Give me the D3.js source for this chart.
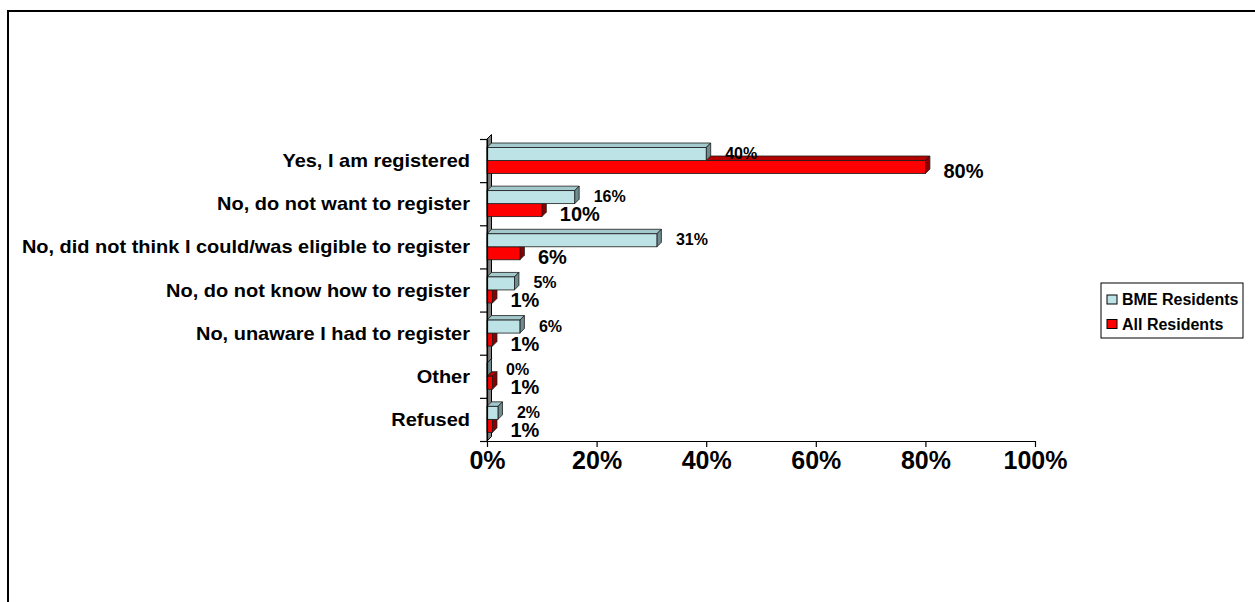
<!DOCTYPE html>
<html>
<head>
<meta charset="utf-8">
<script src="https://cdn.jsdelivr.net/npm/d3@7"></script>
<style>
  html, body { margin: 0; padding: 0; background: #ffffff; }
  svg { display: block; }
  text { font-family: "Liberation Sans", Arial, sans-serif; font-weight: bold; fill: #000; }
</style>
</head>
<body>
<svg id="chart" width="1255" height="602"></svg>
<script>
// Survey answers, top to bottom
const categories = [
  "Yes, I am registered",
  "No, do not want to register",
  "No, did not think I could/was eligible to register",
  "No, do not know how to register",
  "No, unaware I had to register",
  "Other",
  "Refused"
];
const seriesNames = ["BME Residents", "All Residents"];
const bmeValues = [40, 16, 31, 5, 6, 0, 2];
const allValues = [80, 10, 6, 1, 1, 1, 1];
const xTicks = [0, 20, 40, 60, 80, 100];

const svg = d3.select("#chart");

// Outer chart frame
svg.append("rect")
  .attr("x", 8).attr("y", 11)
  .attr("width", 1400).attr("height", 800)
  .attr("fill", "#fff").attr("stroke", "#000").attr("stroke-width", 2);

const plot = { left: 487, right: 1035, top: 139, bottom: 441 };
const depth = { dx: 4.5, dy: -4.5 };

const x = d3.scaleLinear().domain([0, 100]).range([plot.left, plot.right]);
const y = d3.scaleBand().domain(categories).range([plot.top, plot.bottom]).paddingInner(0).paddingOuter(0);
const yEdge = d3.scaleLinear().domain([0, categories.length]).range([plot.top, plot.bottom]);
const barH = 13;
const barOffset = 8.5;

const palette = {
  bme: { front: "#BEE3E6", top: "#A3C9CC", side: "#6F8C8F" },
  all: { front: "#FF0000", top: "#B30000", side: "#8A0000" }
};

// Back wall of the 3D plot
svg.append("polygon")
  .attr("points", [
    [plot.left, plot.top], [plot.left + depth.dx, plot.top + depth.dy],
    [plot.left + depth.dx, plot.bottom + depth.dy], [plot.left, plot.bottom]
  ].map(p => p.join(",")).join(" "))
  .attr("fill", "#808080").attr("stroke", "#000").attr("stroke-width", 1);

function bar3d(g, v, top, col) {
  const x0 = x(0), x1 = x(v);
  const { dx, dy } = depth;
  const pts = a => a.map(p => p.join(",")).join(" ");
  g.append("polygon")
    .attr("points", pts([[x0, top], [x0 + dx, top + dy], [x1 + dx, top + dy], [x1, top]]))
    .attr("fill", col.top).attr("stroke", "#1a1a1a").attr("stroke-width", 0.8);
  g.append("polygon")
    .attr("points", pts([[x1, top], [x1 + dx, top + dy], [x1 + dx, top + barH + dy], [x1, top + barH]]))
    .attr("fill", col.side).attr("stroke", "#1a1a1a").attr("stroke-width", 0.8);
  g.append("rect")
    .attr("x", x0).attr("y", top).attr("width", x1 - x0).attr("height", barH)
    .attr("fill", col.front).attr("stroke", "#1a1a1a").attr("stroke-width", 0.8);
}

const bars = svg.append("g");
categories.forEach((c, i) => {
  const g = bars.append("g");
  bar3d(g, allValues[i], y(c) + barOffset + barH, palette.all);
  bar3d(g, bmeValues[i], y(c) + barOffset, palette.bme);
});

// Left axis: line and tick marks on the category boundaries
const yAxis = svg.append("g")
  .attr("transform", `translate(${plot.left},0)`)
  .call(d3.axisLeft(yEdge).tickValues(d3.range(categories.length + 1)).tickFormat("").tickSize(7).tickSizeOuter(0));
yAxis.selectAll("line, path").attr("stroke", "#000").attr("stroke-width", 1.2);

// Category labels
svg.append("g").selectAll("text")
  .data(categories).join("text")
  .attr("transform", d => `translate(470,${y(d) + y.bandwidth() / 2 + 6.5}) scale(1.11,1)`)
  .attr("text-anchor", "end")
  .attr("font-size", 18)
  .text(d => d);

// Bottom value axis
const xAxis = svg.append("g")
  .attr("transform", `translate(0,${plot.bottom})`)
  .call(d3.axisBottom(x).tickValues(xTicks).tickFormat(d => d + "%").tickSize(6).tickSizeOuter(0));
xAxis.selectAll("line, path").attr("stroke", "#000").attr("stroke-width", 1.2);
xAxis.selectAll("text")
  .attr("dy", null).attr("y", 28)
  .attr("font-size", 25).attr("font-weight", "bold")
  .attr("font-family", "'Liberation Sans', Arial, sans-serif")
  .attr("fill", "#000");

// Value labels
const labels = svg.append("g");
categories.forEach((c, i) => {
  labels.append("text")
    .attr("x", x(bmeValues[i]) + 19)
    .attr("y", y(c) + 20)
    .attr("font-size", 16)
    .text(bmeValues[i] + "%");
  labels.append("text")
    .attr("x", x(allValues[i]) + 18)
    .attr("y", y(c) + 39)
    .attr("font-size", 20)
    .text(allValues[i] + "%");
});

// Legend
const legend = svg.append("g");
legend.append("rect")
  .attr("x", 1101).attr("y", 283).attr("width", 142).attr("height", 55)
  .attr("fill", "#fff").attr("stroke", "#000").attr("stroke-width", 1);
const legendColors = [palette.bme.front, palette.all.front];
seriesNames.forEach((name, i) => {
  legend.append("rect")
    .attr("x", 1107).attr("y", 295 + i * 24.5).attr("width", 10).attr("height", 9)
    .attr("fill", legendColors[i]).attr("stroke", "#000").attr("stroke-width", 1);
  legend.append("text")
    .attr("x", 1122).attr("y", 305 + i * 25)
    .attr("font-size", 16)
    .text(name);
});
</script>
</body>
</html>
